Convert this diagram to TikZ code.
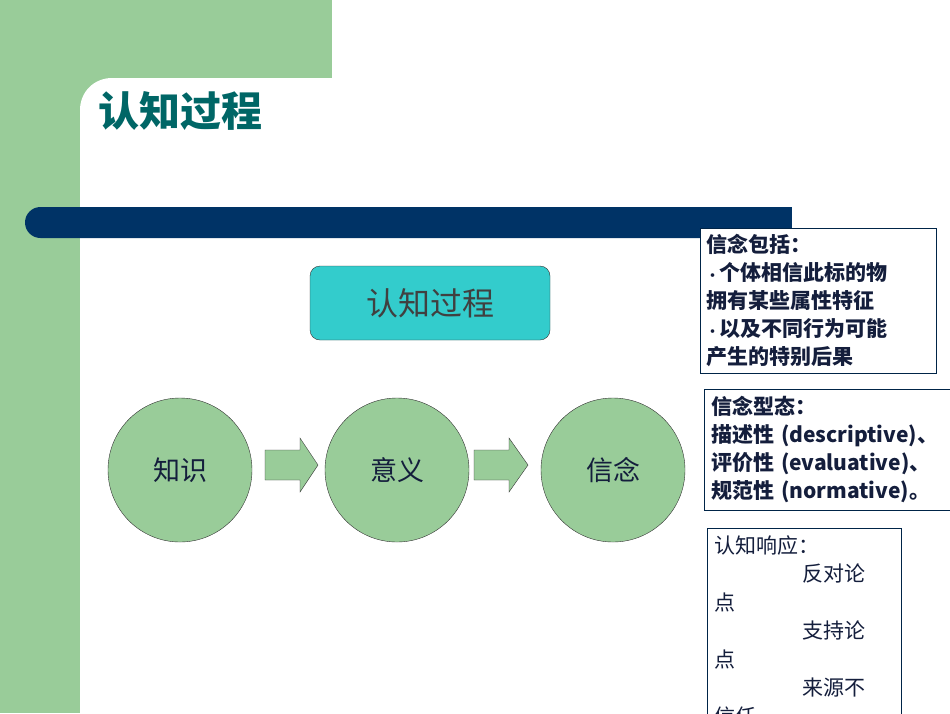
\documentclass[tikz,border=0pt]{standalone}
\usepackage{fontspec}
\setmainfont{Liberation Sans}
\newfontfamily\cjk{Noto Sans CJK SC}
\definecolor{lgreen}{RGB}{153,204,153}
\definecolor{navy}{RGB}{0,51,102}
\definecolor{teal1}{RGB}{0,102,102}
\definecolor{cyanb}{RGB}{51,204,204}
\definecolor{txt}{RGB}{20,30,60}
\tikzset{
 circ/.style={circle,draw=black!80,fill=lgreen,minimum size=144pt,inner sep=0pt,font=\cjk\fontsize{27}{30}\selectfont,text=txt},
 blockarrow/.style={draw=black!80,fill=lgreen},
 tbox/.style={draw=navy!70!black,fill=white,anchor=north west,align=left,inner sep=4pt,text=txt,font=\cjk\bfseries\fontsize{21}{28}\selectfont}
}
\begin{document}
\begin{tikzpicture}[x=1pt,y=-1pt]
\useasboundingbox (0,0) rectangle (950,713);
\clip (0,0) rectangle (950,713);
\fill[lgreen] (0,0) rectangle (332,78);
\fill[lgreen] (0,0) rectangle (80,713);
\fill[lgreen] (80,78) rectangle (112,110);
\fill[white] (80,110) .. controls (80,92) and (94,78) .. (112,78) -- (960,78) -- (960,720) -- (80,720) -- cycle;
\node[anchor=west,text=teal1,font=\cjk\bfseries\fontsize{41}{44}\selectfont] (title) at (95,111) {认知过程};
\fill[navy,rounded corners=15.5pt] (25,207) rectangle (830,238);
\fill[navy] (700,207) rectangle (792,238);
\fill[white] (792,200) rectangle (960,245);
\node[draw=black!80,fill=cyanb,rounded corners=10pt,minimum width=240pt,minimum height=74pt,font=\cjk\fontsize{32}{36}\selectfont,text=black!75] (proc) at (430,303) {认知过程};
\node[circ] (k) at (180,470) {知识};
\node[circ] (m) at (397,470) {意义};
\node[circ] (b) at (613,470) {信念};
\draw[blockarrow] (265,450) -- (300,450) -- (300,438) -- (318,465) -- (300,492) -- (300,480) -- (265,480) -- cycle;
\draw[blockarrow] (474,450) -- (509,450) -- (509,438) -- (528,465) -- (509,492) -- (509,480) -- (474,480) -- cycle;
\node[tbox,text width=224pt,inner sep=6pt] (t1) at (700,228) {信念包括：\\{\fontsize{13}{13}\selectfont•}个体相信此标的物\\拥有某些属性特征\\{\fontsize{13}{13}\selectfont•}以及不同行为可能\\产生的特别后果};
\node[tbox,text width=240pt,inner sep=7pt] (t2) at (704,389) {信念型态：\\描述性 (descriptive)、\\评价性 (evaluative)、\\规范性 (normative)。};
\node[tbox,text width=180pt,font=\cjk\fontsize{21}{28.5}\selectfont,minimum height=200pt,inner sep=7pt] (t3) at (707,528) {认知响应：\\\hspace*{88pt}反对论\\点\\\hspace*{88pt}支持论\\点\\\hspace*{88pt}来源不\\信任};
\end{tikzpicture}
\end{document}
